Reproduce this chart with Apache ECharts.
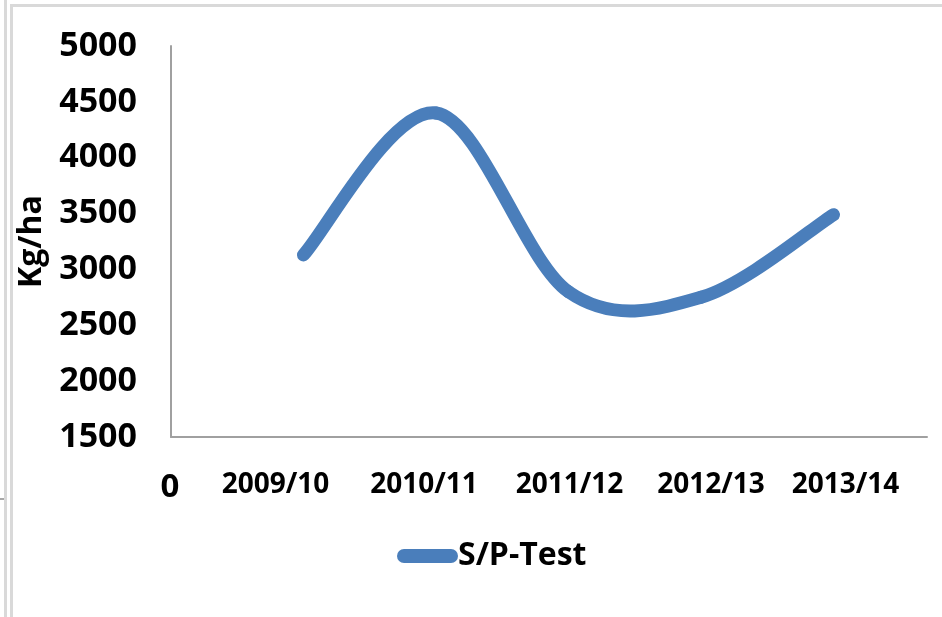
<!DOCTYPE html>
<html>
<head>
<meta charset="utf-8">
<script src="https://cdn.jsdelivr.net/npm/echarts@6/dist/echarts.min.js"></script>
<style>
html,body{margin:0;padding:0;background:#fff;}
#chart{width:942px;height:617px;}
</style>
</head>
<body>
<div id="chart"></div>
<script>
const categories = ['0', '2009/10', '2010/11', '2011/12', '2012/13', '2013/14'];
const seriesName = 'S/P-Test';
const seriesValues = [null, 3130, 4400, 2800, 2750, 3490];
const yMin = 1500;
const yMax = 5000;
const yStep = 500;
const yAxisTitle = 'Kg/ha';

const FONT = "'Open Sans', 'Liberation Sans', sans-serif";
const LINE_COLOR = '#4a7ebb';
// horizontal nudges of category labels (styling only)
const labelShift = [-1, -28, -12, 1, 10, 12];

const rich = {};
categories.forEach((c, i) => {
  const s = labelShift[i];
  rich['c' + i] = {
    fontFamily: FONT,
    fontWeight: 'bold',
    fontSize: i === 0 ? 33 : 28,
    color: '#000',
    padding: s < 0 ? [0, -2 * s, 0, 0] : [0, 0, 0, 2 * s]
  };
});

const chart = echarts.init(document.getElementById('chart'), null, {renderer: 'canvas'});
const lineData = seriesValues.map((v, i) => [i, v]).filter(d => d[1] !== null);

// Excel-style smoothed line: cubic Bezier per segment, control points from neighbours (1/6 tangent)
function renderSegment(params, api) {
  const i = params.dataIndexInside;
  const n = params.dataInsideLength;
  if (i >= n - 1) return null;
  const pt = j => {
    const k = Math.max(0, Math.min(n - 1, j));
    return api.coord([api.value(0, k), api.value(1, k)]);
  };
  const p0 = pt(i - 1), p1 = pt(i), p2 = pt(i + 1), p3 = pt(i + 2);
  const c1x = p1[0] + (p2[0] - p0[0]) / 6;
  const c1y = p1[1] + (p2[1] - p0[1]) / 6;
  const c2x = p2[0] - (p3[0] - p1[0]) / 6;
  const c2y = p2[1] - (p3[1] - p1[1]) / 6;
  return {
    type: 'bezierCurve',
    shape: {x1: p1[0], y1: p1[1], x2: p2[0], y2: p2[1], cpx1: c1x, cpy1: c1y, cpx2: c2x, cpy2: c2y},
    style: {stroke: LINE_COLOR, lineWidth: 13, fill: 'none', lineCap: 'round', lineJoin: 'round'},
    silent: true
  };
}

chart.setOption({
  animation: false,
  backgroundColor: '#fff',
  grid: {left: 171, top: 46, width: 756, height: 391, containLabel: false},
  xAxis: {
    type: 'value',
    min: 0,
    max: 5.706,
    interval: 1,
    splitLine: {show: false},
    axisTick: {show: false},
    axisLine: {show: true, lineStyle: {color: '#a0a0a0', width: 2}},
    axisLabel: {
      show: true,
      margin: 34,
      showMaxLabel: false,
      formatter: function (v) {
        const i = Math.round(v);
        if (Math.abs(v - i) > 1e-6 || i < 0 || i >= categories.length) return '';
        return '{c' + i + '|' + categories[i] + '}';
      },
      rich: rich
    }
  },
  yAxis: {
    type: 'value',
    min: yMin,
    max: yMax,
    interval: yStep,
    name: yAxisTitle,
    nameLocation: 'middle',
    nameGap: 119,
    nameRotate: 90,
    nameTextStyle: {fontFamily: FONT, fontWeight: 'bold', fontSize: 32, color: '#000'},
    splitLine: {show: false},
    axisTick: {show: false},
    axisLine: {show: true, lineStyle: {color: '#a0a0a0', width: 2}},
    axisLabel: {
      margin: 34, fontFamily: FONT, fontWeight: 'bold', fontSize: 34, color: '#000',
      formatter: v => String(v)
    }
  },
  legend: {
    show: true,
    left: 397,
    top: 538,
    padding: 0,
    itemWidth: 61,
    itemHeight: 14,
    itemGap: 10,
    icon: 'path://M7,0 H54 A7,7 0 0 1 54,14 H7 A7,7 0 0 1 7,0 Z',
    textStyle: {fontFamily: FONT, fontWeight: 'bold', fontSize: 32, color: '#000', lineHeight: 36, padding: [0, 0, 0, -5]},
    data: [seriesName]
  },
  series: [{
    name: seriesName,
    type: 'custom',
    data: lineData,
    encode: {x: 0, y: 1},
    renderItem: renderSegment,
    itemStyle: {color: LINE_COLOR},
    clip: false
  }],
  graphic: [
    {type: 'line', silent: true, shape: {x1: 10, y1: 5.5, x2: 942, y2: 5.5}, style: {stroke: '#d9d9d9', lineWidth: 3}},
    {type: 'line', silent: true, shape: {x1: 5.5, y1: 0, x2: 5.5, y2: 617}, style: {stroke: '#d9d9d9', lineWidth: 3}},
    {type: 'line', silent: true, shape: {x1: 11.5, y1: 4, x2: 11.5, y2: 617}, style: {stroke: '#d9d9d9', lineWidth: 3}},
    {type: 'line', silent: true, shape: {x1: 0, y1: 499, x2: 4, y2: 499}, style: {stroke: '#a8a8a8', lineWidth: 2}}
  ]
});
</script>
</body>
</html>
